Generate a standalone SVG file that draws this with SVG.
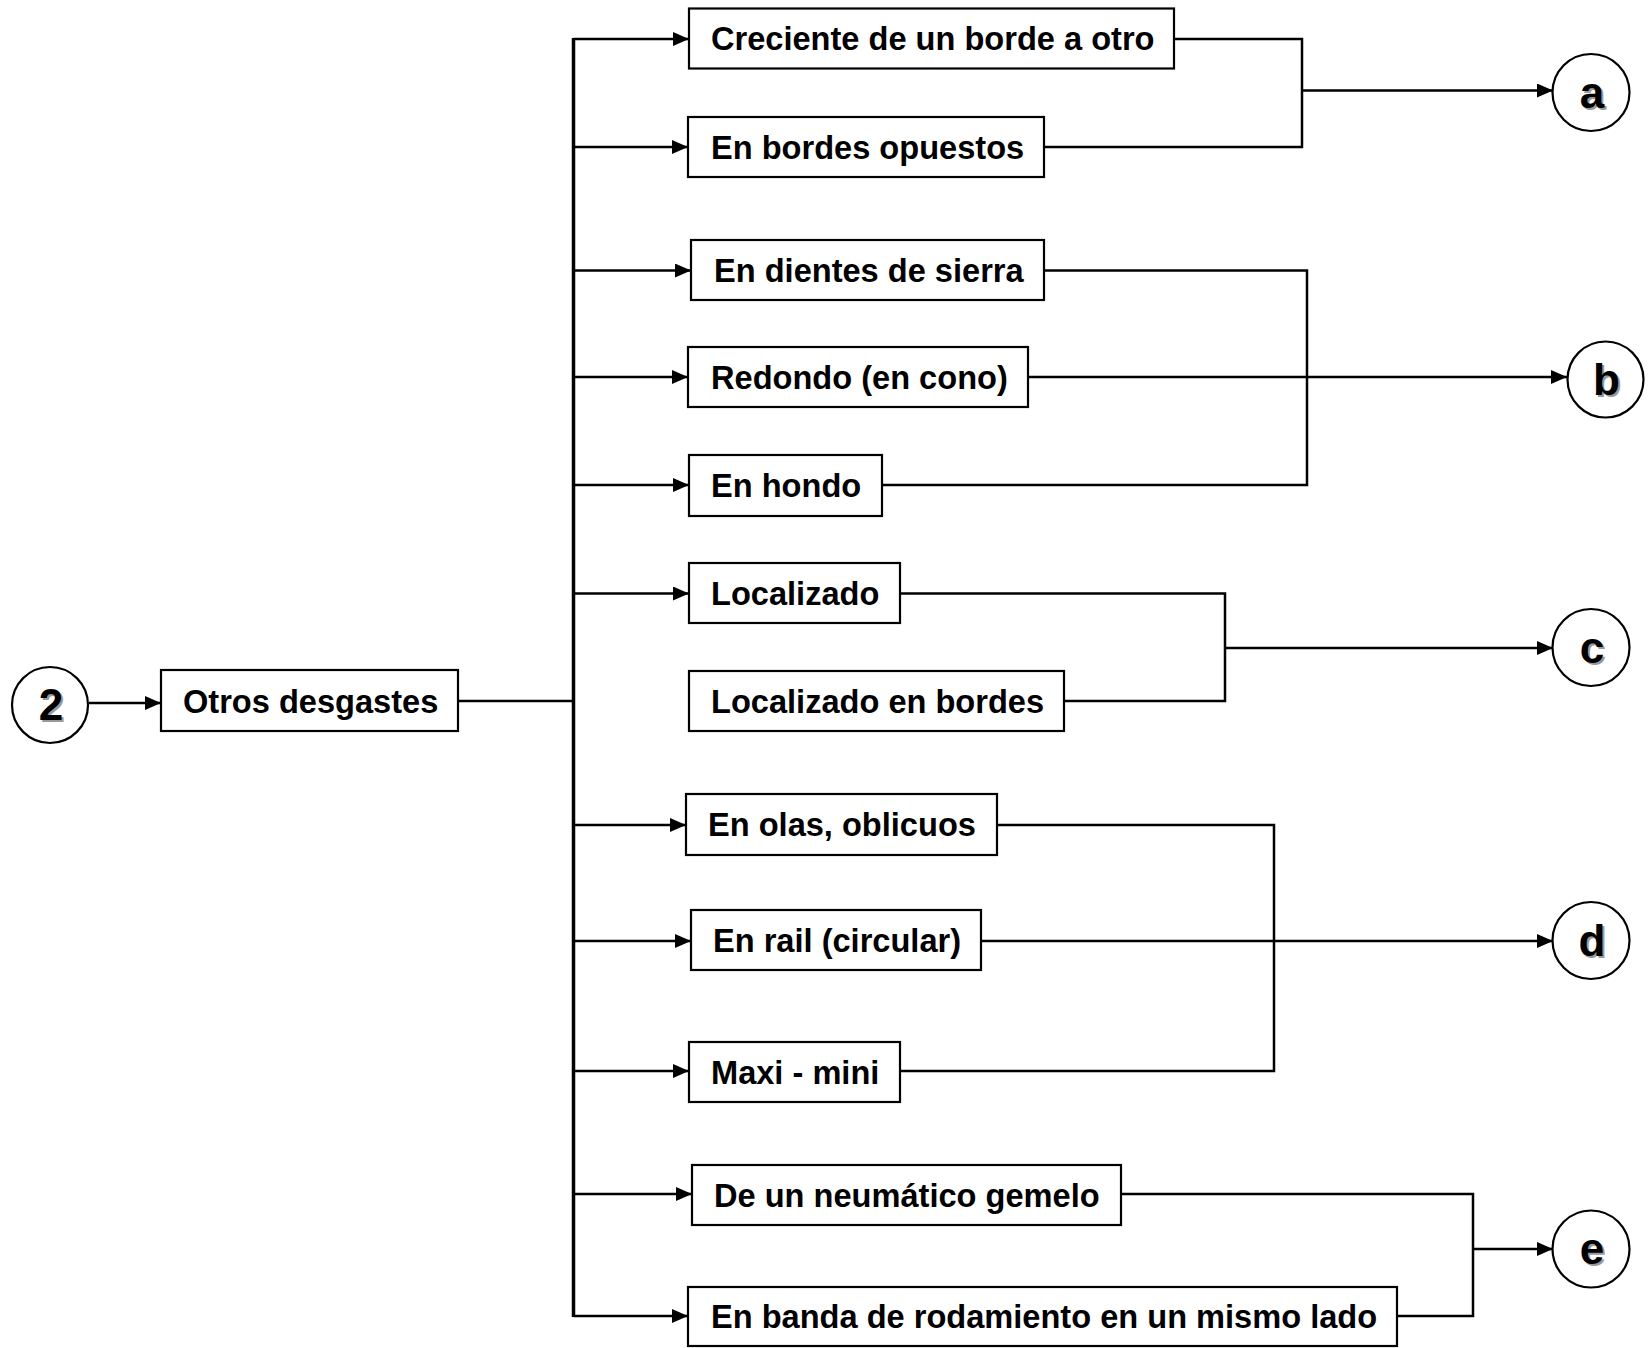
<svg xmlns="http://www.w3.org/2000/svg" width="1650" height="1348" viewBox="0 0 1650 1348">
<style>
.box{fill:#fff;stroke:#000;stroke-width:2.2}
.lbl{font-family:"Liberation Sans",Arial,sans-serif;font-weight:bold;font-size:32.6px;fill:#000}
.circ{fill:#fff;stroke:#000;stroke-width:2.2}
.cl{font-family:"Liberation Sans",Arial,sans-serif;font-weight:bold;font-size:44px;fill:#000;text-anchor:middle}
.cs{font-family:"Liberation Sans",Arial,sans-serif;font-weight:bold;font-size:44px;fill:#999;text-anchor:middle}
.ln{fill:none;stroke:#000;stroke-width:2.5}
.arr{fill:none;stroke:#000;stroke-width:2.5;marker-end:url(#ah)}
</style>
<defs>
<marker id="ah" markerUnits="userSpaceOnUse" markerWidth="18" markerHeight="16" refX="16" refY="7" orient="auto">
<path d="M0,0 L16,7 L0,14 z" fill="#000"/>
</marker>
</defs>
<rect width="1650" height="1348" fill="#fff"/>
<g id="connectors">
<line class="arr" x1="89" y1="703" x2="161" y2="703"/>
<line class="ln" x1="458" y1="701" x2="573.5" y2="701"/>
<line x1="573.5" y1="38" x2="573.5" y2="1317" stroke="#000" stroke-width="3.5"/>
<line class="arr" x1="573.5" y1="39" x2="689" y2="39"/>
<line class="arr" x1="573.5" y1="147" x2="688" y2="147"/>
<line class="arr" x1="573.5" y1="270.5" x2="691" y2="270.5"/>
<line class="arr" x1="573.5" y1="377" x2="688" y2="377"/>
<line class="arr" x1="573.5" y1="485" x2="689" y2="485"/>
<line class="arr" x1="573.5" y1="593.5" x2="689" y2="593.5"/>
<line class="arr" x1="573.5" y1="825" x2="686" y2="825"/>
<line class="arr" x1="573.5" y1="941" x2="691" y2="941"/>
<line class="arr" x1="573.5" y1="1071" x2="689" y2="1071"/>
<line class="arr" x1="573.5" y1="1194" x2="692" y2="1194"/>
<line class="arr" x1="573.5" y1="1316" x2="688" y2="1316"/>
<polyline class="ln" points="1174,39 1302,39 1302,147 1044,147"/>
<line class="arr" x1="1302" y1="90.5" x2="1553" y2="90.5"/>
<polyline class="ln" points="1044,270.5 1307,270.5 1307,485 882,485"/>
<line class="arr" x1="1028" y1="377" x2="1567" y2="377"/>
<polyline class="ln" points="900,593.5 1225,593.5 1225,701 1064,701"/>
<line class="arr" x1="1225" y1="648" x2="1553" y2="648"/>
<polyline class="ln" points="997,825 1274,825 1274,1071 900,1071"/>
<line class="arr" x1="981" y1="941" x2="1553" y2="941"/>
<polyline class="ln" points="1121,1194 1473,1194 1473,1316 1397,1316"/>
<line class="arr" x1="1473" y1="1249" x2="1553" y2="1249"/>
</g>
<g id="n2"><circle class="circ" cx="50" cy="705" r="38"/><text class="cs" x="53" y="722">2</text><text class="cl" x="51" y="720">2</text></g>
<g id="otros"><rect class="box" x="161" y="670" width="297" height="61"/><text class="lbl" x="183" y="713">Otros desgastes</text></g>
<g id="b1"><rect class="box" x="689" y="8.5" width="485" height="60"/><text class="lbl" x="711" y="50">Creciente de un borde a otro</text></g>
<g id="b2"><rect class="box" x="688" y="117" width="356" height="60"/><text class="lbl" x="711" y="158.5">En bordes opuestos</text></g>
<g id="b3"><rect class="box" x="691" y="240" width="353" height="60"/><text class="lbl" x="714" y="281.5">En dientes de sierra</text></g>
<g id="b4"><rect class="box" x="688" y="347" width="340" height="60"/><text class="lbl" x="711" y="388.5">Redondo (en cono)</text></g>
<g id="b5"><rect class="box" x="689" y="455" width="193" height="61"/><text class="lbl" x="711" y="497">En hondo</text></g>
<g id="b6"><rect class="box" x="689" y="563" width="211" height="60"/><text class="lbl" x="711" y="605">Localizado</text></g>
<g id="b7"><rect class="box" x="689" y="671" width="375" height="60"/><text class="lbl" x="711" y="712.5">Localizado en bordes</text></g>
<g id="b8"><rect class="box" x="686" y="794" width="311" height="61"/><text class="lbl" x="708" y="836">En olas, oblicuos</text></g>
<g id="b9"><rect class="box" x="691" y="910" width="290" height="60"/><text class="lbl" x="713" y="952">En rail (circular)</text></g>
<g id="b10"><rect class="box" x="689" y="1042" width="211" height="60"/><text class="lbl" x="711" y="1083.5">Maxi - mini</text></g>
<g id="b11"><rect class="box" x="692" y="1165" width="429" height="60"/><text class="lbl" x="714" y="1206.5">De un neumático gemelo</text></g>
<g id="b12"><rect class="box" x="688" y="1287" width="709" height="59"/><text class="lbl" x="711" y="1328">En banda de rodamiento en un mismo lado</text></g>
<g id="ca"><circle class="circ" cx="1591" cy="92.5" r="38.5"/><text class="cs" x="1594" y="109.5">a</text><text class="cl" x="1592" y="107.5">a</text></g>
<g id="cb"><circle class="circ" cx="1605.5" cy="379.5" r="38"/><text class="cs" x="1608.5" y="396.5">b</text><text class="cl" x="1606.5" y="394.5">b</text></g>
<g id="cc"><circle class="circ" cx="1591" cy="647.5" r="38.5"/><text class="cs" x="1594" y="664.5">c</text><text class="cl" x="1592" y="662.5">c</text></g>
<g id="cd"><circle class="circ" cx="1591" cy="940.5" r="38.5"/><text class="cs" x="1594" y="957.5">d</text><text class="cl" x="1592" y="955.5">d</text></g>
<g id="ce"><circle class="circ" cx="1591" cy="1249" r="38.5"/><text class="cs" x="1594" y="1266">e</text><text class="cl" x="1592" y="1264">e</text></g>
</svg>
